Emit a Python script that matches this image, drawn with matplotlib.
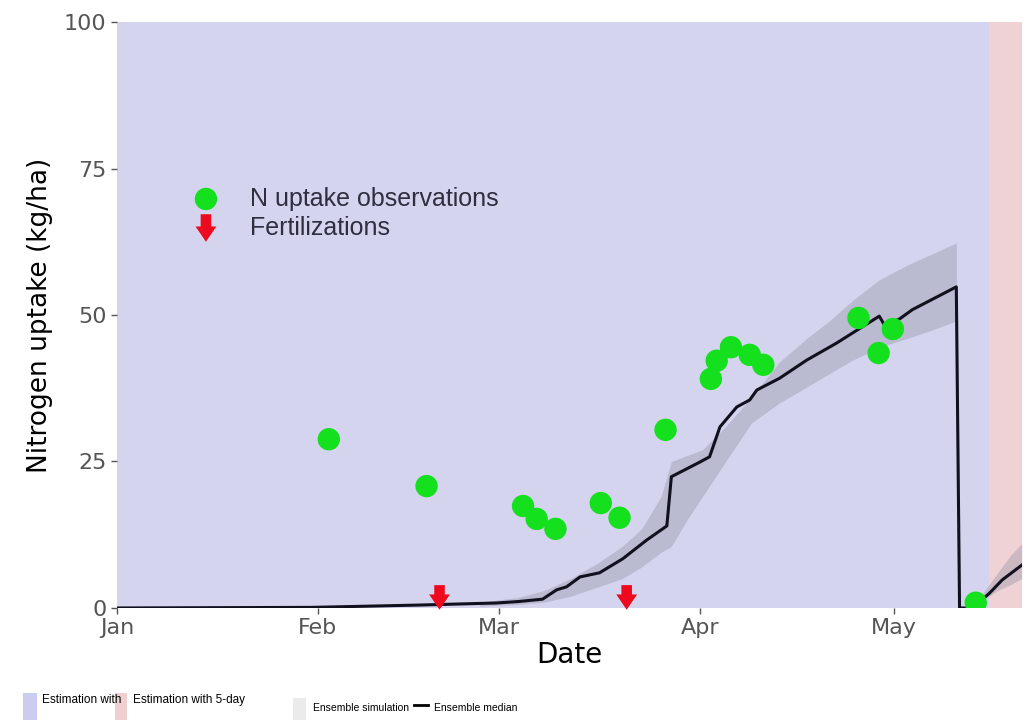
import matplotlib
matplotlib.use("Agg")
import matplotlib.pyplot as plt
from matplotlib.patches import Rectangle
from matplotlib.lines import Line2D

# days since Jan 1
month_ticks = [0, 31, 59, 90, 120]
month_labels = ["Jan", "Feb", "Mar", "Apr", "May"]

obs_day = [32.7, 47.8, 62.7, 64.8, 67.7, 74.7, 77.6, 84.7, 91.7, 92.6, 94.8,
           97.7, 99.8, 114.5, 117.6, 119.8, 132.6]
obs_val = [28.8, 20.8, 17.4, 15.2, 13.5, 17.9, 15.4, 30.4, 39.1, 42.2, 44.5,
           43.2, 41.5, 49.5, 43.5, 47.6, 0.9]

fert_day = [49.8, 78.7]

median_day = [0, 30, 46.8, 58.6, 62, 65.7, 67.9, 69.4, 71.5, 74.5, 78.1, 81.8,
              84.9, 85.6, 90.0, 91.5, 93.1, 95.7, 97.7, 98.8, 102.3, 106.5,
              111.1, 117.7, 118.5, 120.8, 122.8, 129.6, 130.1, 132.1, 134.7,
              136.7, 139.7]
median_val = [0, 0.1, 0.5, 0.85, 1.1, 1.5, 3.1, 3.6, 5.3, 6.0, 8.4, 11.6,
              14.0, 22.4, 24.9, 25.8, 30.9, 34.3, 35.5, 37.2, 39.2, 42.3,
              45.2, 49.8, 48.3, 49.3, 50.9, 54.8, 0, 0, 2.5, 4.8, 7.3]

ens_day = [56, 62, 66, 70, 74, 78, 81, 84, 85.6, 88, 90.4, 94, 98, 102.3,
           106.5, 110, 113.6, 117.7, 122, 126, 129.6]
ens_low = [0.3, 0.6, 1.0, 2.0, 3.5, 5.0, 7.0, 9.5, 10.5, 15, 19, 25, 31.6,
           35, 37.7, 40, 42.3, 44.5, 46, 47.5, 49]
ens_high = [1.0, 1.8, 3.0, 5.0, 7.5, 10.5, 13.5, 19, 25, 26, 27, 31, 36, 42,
            46, 49, 52.5, 56, 58.5, 60.5, 62.3]

ens2_day = [132, 134, 136, 138, 139.7]
ens2_low = [0, 1.5, 3, 4, 5]
ens2_high = [0, 3, 6, 9, 11]

est_end = 134.7
x_end = 139.7

ARROW = "simple,head_width=0.75,head_length=0.55,tail_width=0.38"
RED = "#ee0a1e"
GREEN = "#14e01e"
NARROW = ["Liberation Sans Narrow", "Liberation Sans"]

fig = plt.figure(figsize=(10.31, 7.2), dpi=100)
ax = fig.add_axes([0.1135, 0.1556, 0.8775, 0.8138])

ax.axvspan(0, est_end, color="#d4d4ef", lw=0, zorder=0)
ax.axvspan(est_end, x_end, color="#efd2d5", lw=0, zorder=0)

ax.fill_between(ens_day, ens_low, ens_high, color="#8a8a9a", alpha=0.35, lw=0, zorder=1)
ax.fill_between(ens2_day, ens2_low, ens2_high, color="#8a8a9a", alpha=0.35, lw=0, zorder=1)

ax.plot(median_day, median_val, color="#10101e", lw=2.2, zorder=3)

ax.scatter(obs_day, obs_val, s=260, color=GREEN, edgecolors="none", zorder=4)

for d in fert_day:
    ax.annotate("", xy=(d, -0.3), xytext=(d, 3.9), annotation_clip=False,
                arrowprops=dict(arrowstyle=ARROW, mutation_scale=20, color=RED, lw=0,
                                shrinkA=0, shrinkB=0), zorder=5)

ax.set_xlim(0, x_end)
ax.set_ylim(0, 100)
ax.set_xticks(month_ticks)
ax.set_xticklabels(month_labels)
ax.set_yticks([0, 25, 50, 75, 100])
ax.tick_params(colors="#555555", labelsize=16, length=4, width=1)
for s in ax.spines.values():
    s.set_visible(False)
ax.set_xlabel("Date", fontsize=20, labelpad=2)
ax.set_ylabel("Nitrogen uptake (kg/ha)", fontsize=19, labelpad=8)

# legend inside the panel
ax.scatter([0.0983], [0.698], s=260, color=GREEN, edgecolors="none",
           transform=ax.transAxes, zorder=6)
ax.annotate("", xy=(0.0983, 0.625), xytext=(0.0983, 0.672), xycoords="axes fraction",
            arrowprops=dict(arrowstyle=ARROW, mutation_scale=20, color=RED, lw=0,
                            shrinkA=0, shrinkB=0), zorder=6)
ax.text(0.147, 0.698, "N uptake observations", transform=ax.transAxes, fontsize=18,
        color="#2e2e40", va="center", family="Liberation Sans")
ax.text(0.147, 0.648, "Fertilizations", transform=ax.transAxes, fontsize=18,
        color="#2e2e40", va="center", family="Liberation Sans")

# bottom legends (cut off by the figure edge)
W, H = 1031, 720
fig.patches.append(Rectangle((23 / W, 0), 14 / W, 27 / H, transform=fig.transFigure,
                             color="#ccccf0", lw=0))
fig.text(42 / W, 20 / H, "Estimation with", fontsize=8.5, va="center", family=NARROW)
fig.patches.append(Rectangle((115 / W, 0), 12 / W, 27 / H, transform=fig.transFigure,
                             color="#efcfd0", lw=0))
fig.text(133 / W, 20 / H, "Estimation with 5-day", fontsize=8.5, va="center", family=NARROW)
fig.patches.append(Rectangle((293 / W, 0), 13 / W, 22 / H, transform=fig.transFigure,
                             color="#ebebeb", lw=0))
fig.text(313 / W, 12 / H, "Ensemble simulation", fontsize=7.5, va="center", family=NARROW)
fig.lines.append(Line2D([414 / W, 428 / W], [15 / H, 15 / H], transform=fig.transFigure,
                        color="black", lw=2))
fig.text(434 / W, 12 / H, "Ensemble median", fontsize=7.5, va="center", family=NARROW)

fig.savefig("out.png", dpi=100)
